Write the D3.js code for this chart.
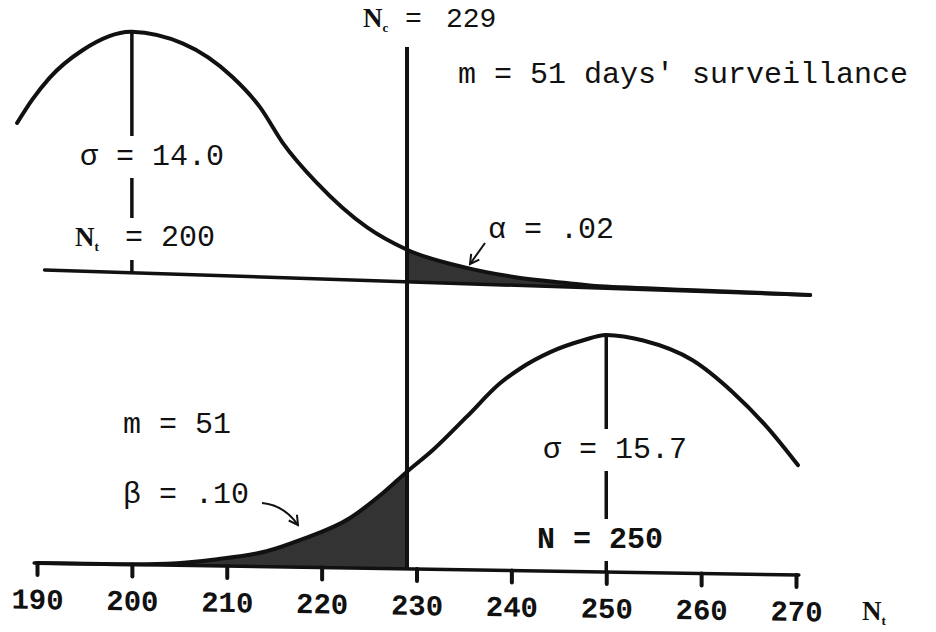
<!DOCTYPE html>
<html>
<head>
<meta charset="utf-8">
<script src="https://cdn.jsdelivr.net/npm/d3@7"></script>
<style>
  body { margin: 0; background: #fff; }
  text { fill: #111; }
</style>
</head>
<body>
<div class="chart"></div>
<script>
// values
const ticks = [190, 200, 210, 220, 230, 240, 250, 260, 270];
const critical = 229;
const means = [200, 250];
const sigmas = [14.0, 15.7];
const days = 51;
const alphaText = ".02";
const betaText = ".10";

// top curve (N, height relative to its peak)
const topN = [187.9, 189.5, 191.3, 194.8, 200, 205.4, 210.6, 213.5, 215.9, 219.5, 224.8, 229, 235.3, 240.6, 245.8, 249.3, 259.9, 271.5];
const topH = [0.606, 0.705, 0.797, 0.917, 1, 0.958, 0.826, 0.705, 0.56, 0.398, 0.22, 0.133, 0.066, 0.033, 0.017, 0.008, 0.004, 0];
// bottom curve
const botN = [190, 197, 203.7, 209.0, 214.2, 217.7, 223.0, 226.4, 229, 231.7, 235.3, 238.8, 240.9, 244.1, 247.5, 250, 253.9, 259.1, 263.3, 266.9, 270.2];
const botH = [0, 0, 0.006, 0.028, 0.065, 0.114, 0.211, 0.316, 0.41, 0.502, 0.646, 0.789, 0.852, 0.924, 0.975, 1, 0.979, 0.899, 0.768, 0.624, 0.464];
// extent of the two base lines
const topBase = [190.8, 271.5];
const botBase = [189.7, 270.3];

const width = 936, height = 632;
const mono = "'Liberation Mono', 'DejaVu Sans Mono', monospace";
const serif = "'Liberation Serif', 'DejaVu Serif', serif";

const svg = d3.select(".chart").append("svg")
  .attr("width", width)
  .attr("height", height);

const defs = svg.append("defs");
defs.append("marker")
  .attr("id", "head")
  .attr("viewBox", "0 0 12 12")
  .attr("refX", 10).attr("refY", 6)
  .attr("markerWidth", 12).attr("markerHeight", 12)
  .attr("markerUnits", "userSpaceOnUse")
  .attr("orient", "auto")
  .append("path")
  .attr("d", "M1,1 L10,6 L1,11")
  .attr("fill", "none")
  .attr("stroke", "#111")
  .attr("stroke-width", 2);

const x = d3.scaleLinear().domain([190, 270]).range([37, 796]);
const yTop = d3.scaleLinear().domain([0, 1]).range([0, -241]);
const yBot = d3.scaleLinear().domain([0, 1]).range([0, -237]);

// base lines are drawn slightly sloped, like the original
function slanted(y0, k) {
  return `matrix(1,${k},0,1,0,${y0 - k * x(190)})`;
}

const topPts = topN.map((n, i) => ({n: n, h: topH[i]}));
const botPts = botN.map((n, i) => ({n: n, h: botH[i]}));

function drawCurve(g, pts, y, base, mean, shade) {
  const line = d3.line()
    .curve(d3.curveMonotoneX)
    .x(d => x(d.n))
    .y(d => y(d.h));
  const area = d3.area()
    .curve(d3.curveMonotoneX)
    .x(d => x(d.n))
    .y0(y(0))
    .y1(d => y(d.h));

  g.append("path")
    .datum(pts.filter(shade))
    .attr("fill", "#333")
    .attr("d", area);

  g.append("line")
    .attr("x1", x(base[0])).attr("x2", x(base[1]))
    .attr("y1", y(0)).attr("y2", y(0))
    .attr("stroke", "#111")
    .attr("stroke-width", 3.5)
    .attr("stroke-linecap", "round");

  g.append("line")
    .attr("x1", x(mean)).attr("x2", x(mean))
    .attr("y1", y(0)).attr("y2", y(1))
    .attr("stroke", "#111")
    .attr("stroke-width", 3.5);

  g.append("path")
    .datum(pts)
    .attr("fill", "none")
    .attr("stroke", "#111")
    .attr("stroke-width", 4)
    .attr("stroke-linecap", "round")
    .attr("d", line);
}

const gTop = svg.append("g").attr("transform", slanted(269.7, 0.0327));
drawCurve(gTop, topPts, yTop, topBase, means[0], d => d.n >= critical);

const gBot = svg.append("g").attr("transform", slanted(563, 0.0158));
drawCurve(gBot, botPts, yBot, botBase, means[1], d => d.n <= critical);

// bottom axis
const axis = gBot.append("g")
  .call(d3.axisBottom(x).tickValues(ticks).tickSize(12).tickFormat(d3.format("d")));
axis.select(".domain").remove();
axis.selectAll(".tick line")
  .attr("stroke", "#111")
  .attr("stroke-width", 4)
  .attr("stroke-linecap", "round");
axis.selectAll(".tick text")
  .attr("y", 46).attr("dy", 0)
  .attr("font-family", mono)
  .attr("font-size", 29)
  .attr("font-weight", "bold")
  .attr("fill", "#111");

// critical value line
svg.append("line")
  .attr("x1", x(critical)).attr("x2", x(critical))
  .attr("y1", 47).attr("y2", 569)
  .attr("stroke", "#111")
  .attr("stroke-width", 4);

// labels
function label(px, py, str, opts) {
  opts = opts || {};
  const t = svg.append("text")
    .attr("x", px).attr("y", py)
    .attr("font-family", mono)
    .attr("font-size", opts.size || 30)
    .attr("font-weight", opts.bold ? "bold" : "normal")
    .text(str);
  if (opts.bg) {
    const b = t.node().getBBox();
    svg.insert("rect", () => t.node())
      .attr("x", b.x - 2).attr("y", b.y - 4)
      .attr("width", b.width + 4).attr("height", b.height + 8)
      .attr("fill", "#fff");
  }
  return t;
}

function nLabel(px, py, sub, rest, restX, opts) {
  opts = opts || {};
  const t = svg.append("text").attr("x", px).attr("y", py);
  t.append("tspan")
    .attr("font-family", serif)
    .attr("font-weight", "bold")
    .attr("font-size", 27)
    .text("N");
  t.append("tspan")
    .attr("font-family", serif)
    .attr("font-weight", "bold")
    .attr("font-size", 13)
    .attr("dy", 5)
    .text(sub);
  if (rest) {
    t.append("tspan")
      .attr("x", restX)
      .attr("dy", -5)
      .attr("font-family", mono)
      .attr("font-size", opts.size || 30)
      .text(rest);
  }
  if (opts.bg) {
    const b = t.node().getBBox();
    svg.insert("rect", () => t.node())
      .attr("x", b.x - 2).attr("y", b.y - 3)
      .attr("width", b.width + 4).attr("height", b.height + 8)
      .attr("fill", "#fff");
  }
}

nLabel(363, 27, "c", "=", 405, {size: 28});
label(446, 27, String(critical), {size: 28});
label(458, 83, `m = ${days} days' surveillance`);
label(80, 165, `σ = ${sigmas[0].toFixed(1)}`, {bg: true});
nLabel(75, 246, "t", `= ${means[0]}`, 125, {bg: true});
label(488, 238, `α = ${alphaText}`);

label(123, 433, `m = ${days}`);
label(123, 503, `β = ${betaText}`);
label(543, 458, `σ = ${sigmas[1].toFixed(1)}`, {bg: true});
label(537, 548, `N = ${means[1]}`, {bold: true, bg: true});
nLabel(862, 620, "t");

// pointers to the shaded tails
svg.append("path")
  .attr("d", "M262,503 Q284,505 298,525")
  .attr("fill", "none")
  .attr("stroke", "#111")
  .attr("stroke-width", 2)
  .attr("marker-end", "url(#head)");

svg.append("path")
  .attr("d", "M485,243 L470,264")
  .attr("fill", "none")
  .attr("stroke", "#111")
  .attr("stroke-width", 2)
  .attr("marker-end", "url(#head)");
</script>
</body>
</html>
